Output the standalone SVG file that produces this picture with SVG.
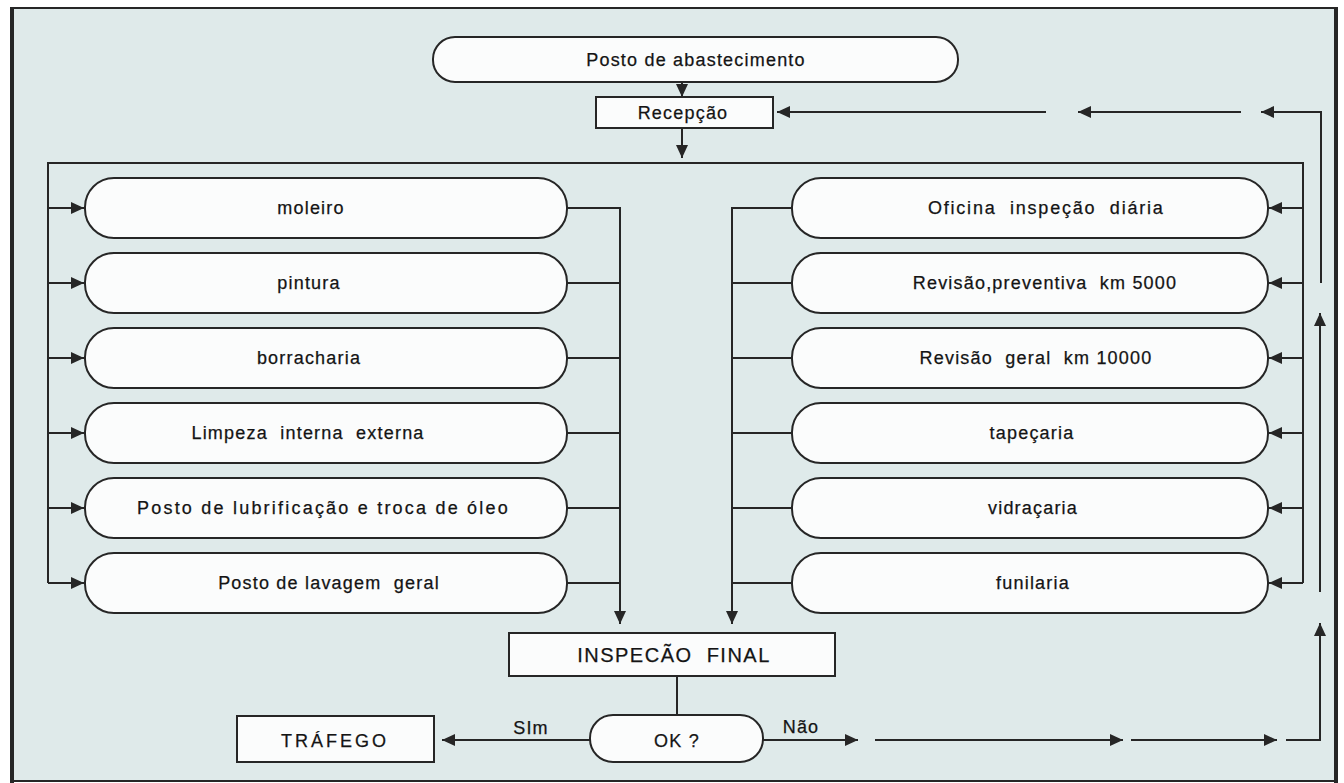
<svg xmlns="http://www.w3.org/2000/svg" width="1344" height="783" viewBox="0 0 1344 783">
  <style>
    .frame { fill: #dfeaea; stroke: none; }
    .node { fill: #fbfcfc; stroke: #262626; stroke-width: 2; }
    .wire { fill: none; stroke: #262626; stroke-width: 2; }
    .lbl { font-family: "Liberation Sans", Arial, sans-serif; font-size: 18px; letter-spacing: 1.2px; fill: #141414; stroke: #141414; stroke-width: 0.25; text-anchor: middle; white-space: pre; }
    .cap { font-size: 20px; letter-spacing: 1.5px; }
  </style>
  <defs>
    <marker id="head" markerUnits="userSpaceOnUse" markerWidth="14" markerHeight="14" viewBox="0 0 14 14" refX="13" refY="7" orient="auto">
      <path d="M0,1 L13,7 L0,13 Z" fill="#262626"/>
    </marker>
  </defs>

  <!-- page -->
  <rect width="1344" height="783" fill="#ffffff"/>
  <rect class="frame" x="12" y="8" width="1324" height="773"/>
  <g fill="none" stroke="#262626">
    <line x1="12" y1="8" x2="1336" y2="8" stroke-width="2"/>
    <line x1="12" y1="781" x2="1336" y2="781" stroke-width="2"/>
    <line x1="12" y1="7" x2="12" y2="783" stroke-width="4"/>
    <line x1="1336" y1="7" x2="1336" y2="783" stroke-width="4"/>
  </g>

  <!-- connectors -->
  <g id="connectors" class="wire">
    <line x1="682" y1="82" x2="682" y2="97" marker-end="url(#head)"/>
    <line x1="682" y1="128" x2="682" y2="158" marker-end="url(#head)"/>
    <!-- distribution bus -->
    <polyline points="48,583 48,163 1303,163 1303,583"/>
    <line x1="48" y1="208" x2="84" y2="208" marker-end="url(#head)"/>
    <line x1="48" y1="283" x2="84" y2="283" marker-end="url(#head)"/>
    <line x1="48" y1="358" x2="84" y2="358" marker-end="url(#head)"/>
    <line x1="48" y1="433" x2="84" y2="433" marker-end="url(#head)"/>
    <line x1="48" y1="508" x2="84" y2="508" marker-end="url(#head)"/>
    <line x1="48" y1="583" x2="84" y2="583" marker-end="url(#head)"/>
    <line x1="1303" y1="208" x2="1269" y2="208" marker-end="url(#head)"/>
    <line x1="1303" y1="283" x2="1269" y2="283" marker-end="url(#head)"/>
    <line x1="1303" y1="358" x2="1269" y2="358" marker-end="url(#head)"/>
    <line x1="1303" y1="433" x2="1269" y2="433" marker-end="url(#head)"/>
    <line x1="1303" y1="508" x2="1269" y2="508" marker-end="url(#head)"/>
    <line x1="1303" y1="583" x2="1269" y2="583" marker-end="url(#head)"/>
    <!-- collectors to final inspection -->
    <polyline points="567,208 620,208 620,624" marker-end="url(#head)"/>
    <line x1="567" y1="283" x2="620" y2="283"/>
    <line x1="567" y1="358" x2="620" y2="358"/>
    <line x1="567" y1="433" x2="620" y2="433"/>
    <line x1="567" y1="508" x2="620" y2="508"/>
    <line x1="567" y1="583" x2="620" y2="583"/>
    <polyline points="792,208 732,208 732,624" marker-end="url(#head)"/>
    <line x1="792" y1="283" x2="732" y2="283"/>
    <line x1="792" y1="358" x2="732" y2="358"/>
    <line x1="792" y1="433" x2="732" y2="433"/>
    <line x1="792" y1="508" x2="732" y2="508"/>
    <line x1="792" y1="583" x2="732" y2="583"/>
    <line x1="677" y1="676" x2="677" y2="715"/>
    <!-- yes branch -->
    <line x1="590" y1="740" x2="442" y2="740" marker-end="url(#head)"/>
    <!-- no branch, back to reception -->
    <line x1="763" y1="740" x2="858" y2="740" marker-end="url(#head)"/>
    <line x1="875" y1="740" x2="1123" y2="740" marker-end="url(#head)"/>
    <line x1="1131" y1="740" x2="1277" y2="740" marker-end="url(#head)"/>
    <polyline points="1286,740 1320,740 1320,623" marker-end="url(#head)"/>
    <line x1="1320" y1="592" x2="1320" y2="313" marker-end="url(#head)"/>
    <polyline points="1321,283 1321,112 1261,112" marker-end="url(#head)"/>
    <line x1="1241" y1="112" x2="1078" y2="112" marker-end="url(#head)"/>
    <line x1="1046" y1="112" x2="777" y2="112" marker-end="url(#head)"/>
  </g>

  <!-- nodes -->
  <g id="posto-abastecimento">
    <rect class="node" x="433" y="37" width="525" height="45" rx="22" ry="22"/>
    <text class="lbl" x="696" y="66">Posto de abastecimento</text>
  </g>
  <g id="recepcao">
    <rect class="node" x="596" y="97" width="177" height="31"/>
    <text class="lbl" x="683" y="119">Recepção</text>
  </g>

  <g id="moleiro">
    <rect class="node" x="85" y="178" width="482" height="60" rx="29" ry="29"/>
    <text class="lbl" x="311" y="214">moleiro</text>
  </g>
  <g id="pintura">
    <rect class="node" x="85" y="253" width="482" height="60" rx="29" ry="29"/>
    <text class="lbl" x="309" y="289">pintura</text>
  </g>
  <g id="borracharia">
    <rect class="node" x="85" y="328" width="482" height="60" rx="29" ry="29"/>
    <text class="lbl" x="309" y="364">borracharia</text>
  </g>
  <g id="limpeza">
    <rect class="node" x="85" y="403" width="482" height="60" rx="29" ry="29"/>
    <text class="lbl" x="308" y="439">Limpeza  interna  externa</text>
  </g>
  <g id="lubrificacao">
    <rect class="node" x="85" y="478" width="482" height="60" rx="29" ry="29"/>
    <text class="lbl" x="323" y="514" textLength="372" lengthAdjust="spacing">Posto de lubrificação e troca de óleo</text>
  </g>
  <g id="lavagem">
    <rect class="node" x="85" y="553" width="482" height="60" rx="29" ry="29"/>
    <text class="lbl" x="329" y="589">Posto de lavagem  geral</text>
  </g>

  <g id="oficina">
    <rect class="node" x="792" y="178" width="476" height="60" rx="29" ry="29"/>
    <text class="lbl" x="1046" y="214" textLength="236" lengthAdjust="spacing">Oficina  inspeção  diária</text>
  </g>
  <g id="revisao-preventiva">
    <rect class="node" x="792" y="253" width="476" height="60" rx="29" ry="29"/>
    <text class="lbl" x="1045" y="289">Revisão,preventiva  km 5000</text>
  </g>
  <g id="revisao-geral">
    <rect class="node" x="792" y="328" width="476" height="60" rx="29" ry="29"/>
    <text class="lbl" x="1036" y="364">Revisão  geral  km 10000</text>
  </g>
  <g id="tapecaria">
    <rect class="node" x="792" y="403" width="476" height="60" rx="29" ry="29"/>
    <text class="lbl" x="1032" y="439">tapeçaria</text>
  </g>
  <g id="vidracaria">
    <rect class="node" x="792" y="478" width="476" height="60" rx="29" ry="29"/>
    <text class="lbl" x="1033" y="514">vidraçaria</text>
  </g>
  <g id="funilaria">
    <rect class="node" x="792" y="553" width="476" height="60" rx="29" ry="29"/>
    <text class="lbl" x="1033" y="589">funilaria</text>
  </g>

  <g id="inspecao-final">
    <rect class="node" x="509" y="633" width="326" height="43"/>
    <text class="lbl cap" x="674" y="662">INSPECÃO  FINAL</text>
  </g>
  <g id="ok">
    <rect class="node" x="590" y="715" width="173" height="47" rx="23" ry="23"/>
    <text class="lbl" x="677" y="747">OK ?</text>
  </g>
  <g id="trafego">
    <rect class="node" x="237" y="716" width="197" height="46"/>
    <text class="lbl" x="335" y="747" style="letter-spacing:3px">TRÁFEGO</text>
  </g>

  <text class="lbl" x="531" y="734">SIm</text>
  <text class="lbl" x="801" y="733">Não</text>
</svg>
